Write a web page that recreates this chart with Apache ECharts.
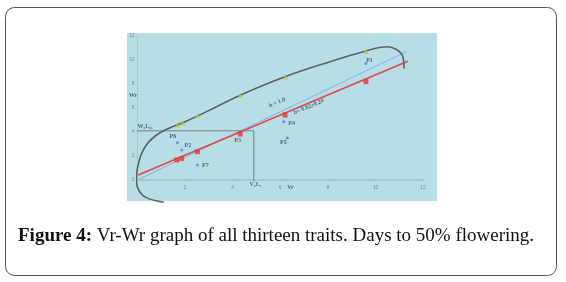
<!DOCTYPE html>
<html>
<head>
<meta charset="utf-8">
<script src="https://cdn.jsdelivr.net/npm/echarts@6/dist/echarts.min.js"></script>
<style>
  html, body { margin: 0; padding: 0; background: #fff; }
  #chart { width: 566px; height: 282px; }
</style>
</head>
<body>
<div id="chart"></div>
<script>
// tick labels of both axes
var xTicks = [0, 2, 4, 6, 8, 10, 12]
var yTicks = [0, 2, 4, 6, 8, 10, 12]

// limiting parabola (Vr, Wr)
var curvePts = [
  [1.1, -1.85], [0.35, -1.45], [0.05, -0.85], [-0.05, 0], [0.0, 1.0],
  [0.15, 2.1], [0.4, 3.0], [0.8, 3.75], [1.3, 4.3], [2.0, 4.85],
  [2.9, 5.7], [4.3, 7.05], [6.2, 8.6], [8.0, 9.8], [9.6, 10.75],
  [10.5, 11.1], [10.9, 10.85], [11.15, 10.3], [11.2, 9.3]
]
// points on the parabola (triangles)
var curveMarks = [[1.68, 4.6], [1.9, 4.78], [2.52, 5.35], [4.32, 7.07], [6.22, 8.61], [9.6, 10.75]]
// points on the regression line (red squares)
var regMarks = [[1.65, 1.67], [1.86, 1.8], [2.52, 2.36], [4.32, 3.83], [6.2, 5.42], [9.6, 8.2]]
// parent array points (Vr, Wr)
var parentPts = [[9.6, 9.7], [1.68, 3.1], [1.86, 2.5], [2.52, 1.25], [6.15, 4.86], [6.3, 3.5]]
// regression line b = 0.82 and unit slope line
var regLine = [[0.03, 0.42], [11.36, 9.9]]
var unitLine = [[0, 0], [11.3, 10.7]]
// guide lines W0L01 / V0L1
var guideLine = [[-0.25, 4.1], [4.89, 4.1], [4.89, -0.14]]

// text labels: [x, y, text, rotate]
var notes = [
  [9.75, 10.0, 'P1', 0],
  [1.49, 3.6, 'P6', 0],
  [2.12, 2.86, 'P2', 0],
  [2.85, 1.25, 'P7', 0],
  [4.21, 3.33, 'P3', 0],
  [6.48, 4.72, 'P4', 0],
  [6.13, 3.14, 'P5', 0],
  [5.87, 6.45, 'b = 1.0', 24],
  [7.2, 6.1, 'b= 0.82±0.20', 23],
  [0.32, 4.45, 'W₀L₀₁', 0],
  [4.96, -0.36, 'V₀L₁', 0],
  [-0.18, 7.08, 'Wr', 0],
  [6.43, -0.6, 'Vr', 0]
]

var dom = echarts.init(document.getElementById('chart'), null, { renderer: 'canvas' })

var option = {
  animation: false,
  graphic: [
    {
      type: 'rect',
      shape: { x: 5.5, y: 7.5, width: 551, height: 268, r: 9 },
      style: { fill: '#fff', stroke: '#555', lineWidth: 1 },
      z: -10
    },
    {
      type: 'rect',
      shape: { x: 127, y: 33, width: 310, height: 168 },
      style: { fill: '#b7dee6' },
      z: -9
    }
  ],
  title: {
    text: '{b|Figure 4:} Vr-Wr graph of all thirteen traits. Days to 50% flowering.',
    left: 13,
    top: 222,
    textStyle: {
      fontFamily: 'Liberation Serif',
      fontSize: 19,
      fontWeight: 'normal',
      color: '#111',
      rich: {
        b: { fontFamily: 'Liberation Serif', fontSize: 19, fontWeight: 'bold', color: '#111' }
      }
    }
  },
  grid: {
    left: 137.5,
    right: 143,
    top: 36,
    bottom: 102,
    containLabel: false
  },
  xAxis: {
    type: 'value',
    min: 0,
    max: 12,
    interval: 2,
    axisLine: { lineStyle: { color: '#9dc4ce', width: 1.5 } },
    axisTick: { show: true, length: 2, lineStyle: { color: '#9dc4ce' } },
    splitLine: { show: false },
    axisLabel: {
      fontSize: 5,
      color: '#6f8a92',
      margin: 5,
      formatter: function (v) { return xTicks.indexOf(v) >= 0 && v !== 0 ? String(v) : '' }
    }
  },
  yAxis: {
    type: 'value',
    min: 0,
    max: 12,
    interval: 2,
    axisLine: { show: true, lineStyle: { color: '#a6cbd4', width: 1 } },
    axisTick: { show: true, length: 2, lineStyle: { color: '#a6cbd4' } },
    splitLine: { show: false },
    axisLabel: {
      fontSize: 5,
      color: '#6f8a92',
      margin: 3,
      formatter: function (v) { return yTicks.indexOf(v) >= 0 ? String(v) : '' }
    }
  },
  series: [
    {
      name: 'unit',
      type: 'line',
      data: unitLine,
      symbol: 'none',
      clip: false,
      lineStyle: { color: '#7fb4e2', width: 1 },
      z: 2
    },
    {
      name: 'reg',
      type: 'line',
      data: regLine,
      symbol: 'none',
      clip: false,
      lineStyle: { color: '#e04848', width: 1.6 },
      z: 3
    },
    {
      name: 'guide',
      type: 'line',
      data: guideLine,
      symbol: 'none',
      clip: false,
      lineStyle: { color: '#7a7f80', width: 1 },
      z: 2
    },
    {
      name: 'parabola',
      type: 'line',
      data: curvePts,
      smooth: 0.4,
      symbol: 'none',
      clip: false,
      lineStyle: { color: '#5c6061', width: 1.6 },
      z: 4
    },
    {
      name: 'curveMarks',
      type: 'scatter',
      data: curveMarks,
      symbol: 'triangle',
      symbolSize: 5,
      itemStyle: { color: '#b9c23a' },
      z: 5
    },
    {
      name: 'regMarks',
      type: 'scatter',
      data: regMarks,
      symbol: 'rect',
      symbolSize: 5,
      itemStyle: { color: '#e03a3a' },
      z: 5
    },
    {
      name: 'parents',
      type: 'scatter',
      data: parentPts,
      symbol: 'circle',
      symbolSize: 3,
      itemStyle: { color: '#4d7fd6' },
      z: 6
    },
    {
      name: 'notes',
      type: 'scatter',
      data: notes.map(function (n) {
        return {
          value: [n[0], n[1]],
          label: {
            show: true,
            formatter: n[2],
            rotate: n[3],
            position: 'inside',
            fontFamily: 'Liberation Serif',
            fontSize: 6,
            fontWeight: 'bold',
            color: '#3a4a55'
          }
        }
      }),
      symbol: 'circle',
      symbolSize: 2,
      itemStyle: { color: 'rgba(0,0,0,0)' },
      clip: false,
      silent: true,
      z: 7
    }
  ]
}
dom.setOption(option)
</script>
</body>
</html>
